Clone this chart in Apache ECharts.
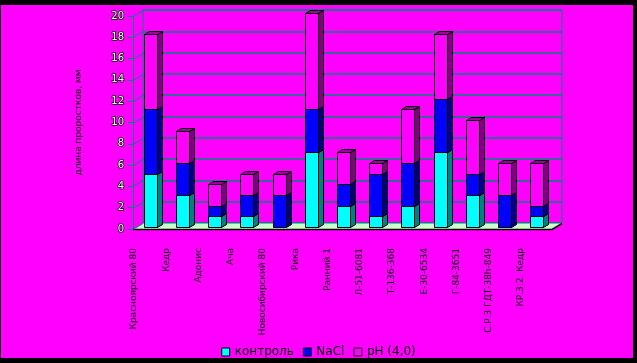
<!DOCTYPE html>
<html><head><meta charset="utf-8">
<script src="https://cdn.jsdelivr.net/npm/echarts@6/dist/echarts.min.js"></script>
<style>html,body{margin:0;padding:0;background:#ff00ff}#c{width:637px;height:363px}</style>
</head><body><div id="c"></div>
<script>
const categories = ['Красноярский 80','Кедр','Адонис','Ача','Новосибирский 80','Рика','Ранний 1','Л-51-6081','Т-136-368','Е-30-6534','Г-84-3651','С.Р.3 ГДТ-38h-849','КР.3.2. Кедр'];
const control = [5,3,1,1,0,7,2,1,2,7,3,0,1];
const nacl    = [6,3,1,2,3,4,2,4,4,5,2,3,1];
const ph      = [7,3,2,2,2,9,3,1,5,6,5,3,4];
const seriesNames = ['контроль','NaCl','pH (4,0)'];
const yTicks = [0,2,4,6,8,10,12,14,16,18,20];
const yTitle = 'длина проростков, мм';

const DX = 5, DY = -3, BW = 13;       // bar depth offsets
const WDX = 10, WDY = -6;             // wall depth offsets
const faces = [
  {front:'#00ffff', side:'#008080', top:'#00c0c0'},
  {front:'#0000ff', side:'#000080', top:'#0000c0'},
  {front:'#ff00ff', side:'#800080', top:'#a000a0'}
];
const raw = [control, nacl, ph];
const base = categories.map(() => 0);
const stacked = raw.map(arr => arr.map((v, i) => { const r = [i, base[i], base[i] + v]; base[i] += v; return r; }));

function barItem(k) {
  return function (params, api) {
    const lo = api.value(1), hi = api.value(2);
    if (hi <= lo) return null;
    const p = api.coord([api.value(0), lo]);
    const q = api.coord([api.value(0), hi]);
    const x0 = Math.round(p[0] - BW / 2 + 1) + 0.5, x1 = x0 + BW;
    const y0 = Math.round(p[1]) + 0.5, y1 = Math.round(q[1]) + 0.5;
    const f = faces[k];
    const st = {stroke:'#000', lineWidth:1};
    return {type:'group', children:[
      {type:'polygon', shape:{points:[[x1,y0],[x1+DX,y0+DY],[x1+DX,y1+DY],[x1,y1]]}, style:Object.assign({fill:f.side}, st)},
      {type:'polygon', shape:{points:[[x0,y1],[x1,y1],[x1+DX,y1+DY],[x0+DX,y1+DY]]}, style:Object.assign({fill:f.top}, st)},
      {type:'rect', shape:{x:x0, y:y1, width:BW, height:y0-y1}, style:Object.assign({fill:f.front}, st)}
    ]};
  };
}

const chart = echarts.init(document.getElementById('c'), null, {renderer:'canvas'});
const series = [
  {type:'custom', name:'floor', xAxisIndex:0, yAxisIndex:0, z:1, silent:true, data:[[0]],
   renderItem:function(params, api){
     const cs = params.coordSys; const y0 = Math.round(api.coord([0, 0])[1]) + 0.5;
     const xl = cs.x, xr = cs.x + cs.width;
     return {type:'group', children:[
       {type:'polygon', shape:{points:[[xl,y0],[xr,y0],[xr+WDX,y0+WDY],[xl+WDX,y0+WDY]]}, style:{fill:'#ccffcc'}},
       {type:'polyline', shape:{points:[[xl,y0],[xr,y0],[xr+WDX,y0+WDY]]}, style:{stroke:'#000', lineWidth:1.5, fill:null}}
     ]};
   }},
  {type:'custom', name:'diag', xAxisIndex:0, yAxisIndex:0, z:1, silent:true, data:yTicks.map(v => [0, v]),
   renderItem:function(params, api){
     const cs = params.coordSys; const y = Math.round(api.coord([0, api.value(1)])[1]) + 0.5;
     return {type:'line', shape:{x1:cs.x, y1:y, x2:cs.x+WDX, y2:y+WDY}, style:{stroke:'#008080', lineWidth:1}};
   }}
];
seriesNames.forEach((n, k) => series.push({
  type:'custom', name:n, xAxisIndex:3, yAxisIndex:3, z:3,
  itemStyle:{color:faces[k].front, borderColor:'#000', borderWidth:1},
  data:stacked[k], renderItem:barItem(k), encode:{x:0, y:[1,2]}
}));

chart.setOption({
  animation:false,
  backgroundColor:'#ff00ff',
  textStyle:{fontFamily:'DejaVu Sans'},
  graphic:[
    {type:'rect', shape:{x:0, y:0, width:637, height:5}, style:{fill:'#000'}},
    {type:'rect', shape:{x:0, y:358, width:637, height:5}, style:{fill:'#000'}},
    {type:'rect', shape:{x:633, y:0, width:4, height:363}, style:{fill:'#000'}},
    {type:'rect', shape:{x:0, y:0, width:1, height:363}, style:{fill:'#000'}}
  ],
  grid:[
    {left:133, right:85, top:16, bottom:134},
    {left:143, right:75, top:10, bottom:140, show:true, borderColor:'#008080', borderWidth:1, backgroundColor:'transparent'},
    {left:118, right:100, top:16, bottom:134},
    {left:133, right:85, top:13, bottom:136}
  ],
  xAxis:[
    {type:'category', gridIndex:0, data:categories, axisLine:{show:false}, axisTick:{show:false}, axisLabel:{show:false}},
    {type:'category', gridIndex:1, data:categories, show:false},
    {type:'category', gridIndex:2, data:categories, axisLine:{show:false}, axisTick:{show:false},
     axisLabel:{interval:0, rotate:90, margin:19, fontSize:9, color:'#000', fontFamily:'DejaVu Sans'}},
    {type:'category', gridIndex:3, data:categories, show:false}
  ],
  yAxis:[
    {type:'value', gridIndex:0, min:yTicks[0], max:yTicks[yTicks.length-1], interval:2,
     name:yTitle, nameLocation:'middle', nameRotate:90, nameGap:50,
     nameTextStyle:{fontSize:9, color:'#000', fontFamily:'DejaVu Sans'},
     axisLine:{show:true, lineStyle:{color:'#008080', width:1}},
     axisTick:{show:true, length:5, lineStyle:{color:'#008080'}},
     axisLabel:{margin:9, fontSize:10, color:'#ffffff', textBorderColor:'#000', textBorderWidth:1.5},
     splitLine:{show:false}},
    {type:'value', gridIndex:1, min:yTicks[0], max:yTicks[yTicks.length-1], interval:2,
     axisLine:{show:false}, axisTick:{show:false}, axisLabel:{show:false},
     splitLine:{show:true, lineStyle:{color:'#008080', width:1.5}}},
    {type:'value', gridIndex:2, min:0, max:20, show:false},
    {type:'value', gridIndex:3, min:yTicks[0], max:yTicks[yTicks.length-1], interval:2, show:false}
  ],
  legend:{
    data:seriesNames, left:'center', top:341, icon:'rect', itemWidth:8, itemHeight:8, itemGap:9,
    textStyle:{fontSize:12, color:'#000', fontFamily:'DejaVu Sans'},
    itemStyle:{borderColor:'#000', borderWidth:1}
  },
  series:series
});
</script></body></html>
